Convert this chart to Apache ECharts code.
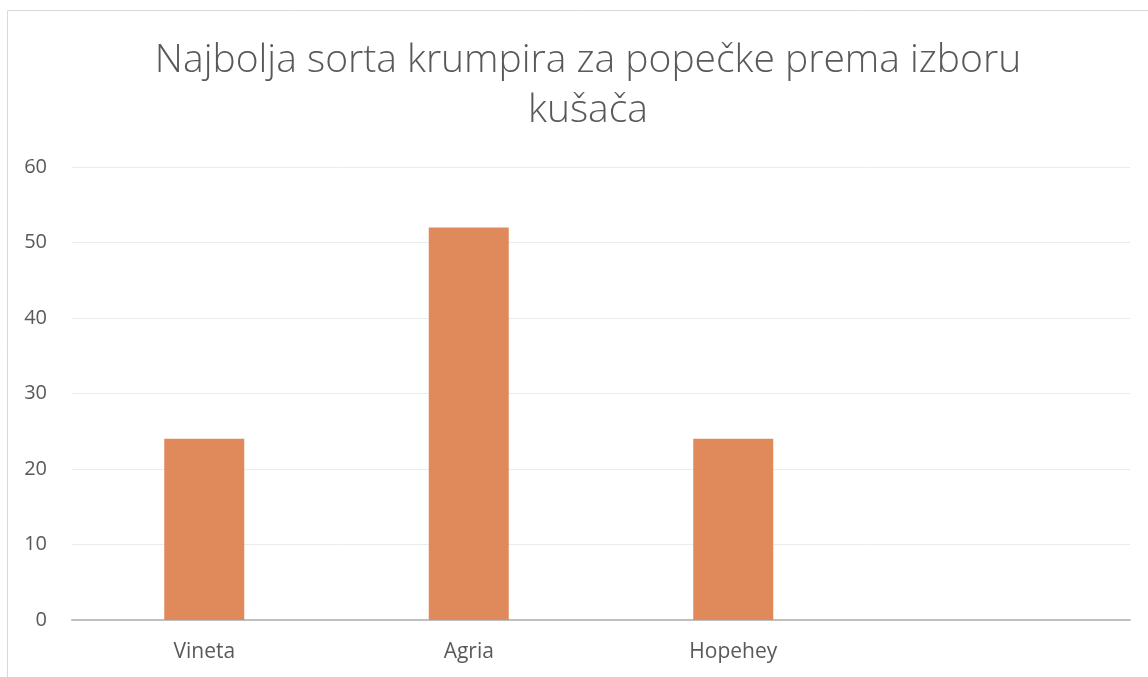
<!DOCTYPE html>
<html>
<head>
<meta charset="utf-8">
<script src="https://cdn.jsdelivr.net/npm/echarts@6/dist/echarts.min.js"></script>
<style>html,body{margin:0;padding:0;background:#fff}#c{width:1148px;height:677px}</style>
</head>
<body>
<div id="c"></div>
<script>
const titleText = 'Najbolja sorta krumpira za popečke prema izboru\nkušača';
const categories = ['Vineta', 'Agria', 'Hopehey', ''];
const values = [24, 52, 24, null];
const yTicks = [0, 10, 20, 30, 40, 50, 60];

const chart = echarts.init(document.getElementById('c'), null, {renderer: 'canvas'});
chart.setOption({
  animation: false,
  backgroundColor: '#ffffff',
  graphic: [{
    type: 'rect', silent: true, z: -1,
    shape: {x: 7.5, y: 10.5, width: 1300, height: 800},
    style: {fill: 'none', stroke: '#d9d9d9', lineWidth: 1}
  }],
  title: {
    text: titleText,
    left: 583, top: 31, textAlign: 'center',
    textStyle: {fontFamily: 'Open Sans', fontWeight: 300, fontSize: 39, color: '#595959', lineHeight: 50}
  },
  grid: {left: 72, right: 18, top: 167, bottom: 57, containLabel: false},
  xAxis: {
    type: 'category', data: categories,
    axisLine: {lineStyle: {color: '#bfbfbf', width: 2}},
    axisTick: {show: false},
    axisLabel: {color: '#595959', fontFamily: 'Open Sans', fontSize: 21, margin: 22}
  },
  yAxis: {
    type: 'value', min: yTicks[0], max: yTicks[yTicks.length - 1], interval: 10,
    axisLine: {show: false}, axisTick: {show: false},
    axisLabel: {color: '#595959', fontFamily: 'Open Sans', fontSize: 20, margin: 25},
    splitLine: {lineStyle: {color: '#ebebeb', width: 1}}
  },
  series: [{
    type: 'bar', data: values, barWidth: 80,
    itemStyle: {color: '#e08a5b'}
  }]
});
</script>
</body>
</html>
